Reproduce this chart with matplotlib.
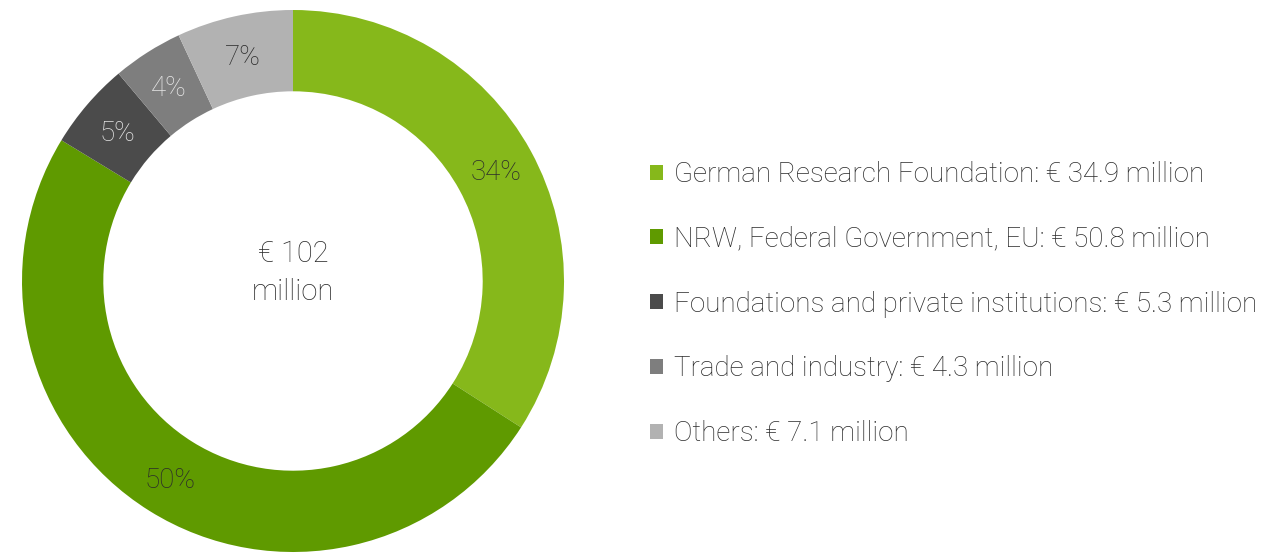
import matplotlib.pyplot as plt

plt.rcParams['font.family'] = ['Roboto', 'DejaVu Sans']

sources = ['German Research Foundation', 'NRW, Federal Government, EU',
           'Foundations and private institutions', 'Trade and industry', 'Others']
amounts = [34.9, 50.8, 5.3, 4.3, 7.1]
colors = ['#86b81b', '#5f9a00', '#4b4b4b', '#7e7e7e', '#b2b2b2']
pct_colors = ['#2b2b2b', '#2b2b2b', '#e6e6e6', '#e6e6e6', '#2b2b2b']
total_label = '€ 102\nmillion'

total = sum(amounts)

fig = plt.figure(figsize=(12.75, 5.53), dpi=100)
ax = fig.add_axes([22 / 1275, 1 / 553, 542 / 1275, 542 / 553])

wedges, texts, autotexts = ax.pie(
    amounts, colors=colors, startangle=90, counterclock=False,
    radius=1.0, wedgeprops=dict(width=0.30, linewidth=0),
    autopct=lambda p: f'{p:.0f}%', pctdistance=0.855,
    textprops=dict(fontsize=20, fontweight='light'))
for t, c in zip(autotexts, pct_colors):
    t.set_color(c)
    t.set_verticalalignment('center_baseline')
ax.set_aspect('equal')
ax.set_xlim(-1, 1)
ax.set_ylim(-1, 1)

ax.text(0, 0.03, total_label, ha='center', va='center', fontsize=21,
        fontweight='light', color='#2b2b2b', linespacing=1.45)

labels = [f'{s}: € {a} million' for s, a in zip(sources, amounts)]
fig.legend(wedges, labels, loc='center left', bbox_to_anchor=(650 / 1275, 1 - 304 / 553),
           frameon=False, prop=dict(size=20, weight='light'), labelcolor='#2b2b2b',
           handlelength=0.45, handleheight=0.45, handletextpad=0.4,
           labelspacing=1.36, borderpad=0, borderaxespad=0)

fig.savefig('out.png', dpi=100)
